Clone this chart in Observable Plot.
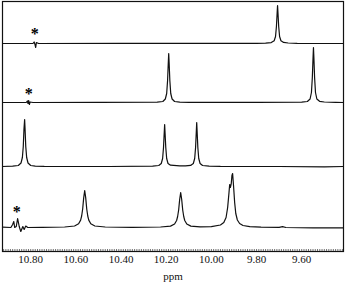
<!DOCTYPE html>
<html>
<head>
<meta charset="utf-8">
<script src="https://cdn.jsdelivr.net/npm/d3@7"></script>
<script src="https://cdn.jsdelivr.net/npm/@observablehq/plot@0.6"></script>
<style>
  html, body { margin: 0; padding: 0; background: #fff; }
  #chart svg { display: block; }
</style>
</head>
<body>
<div id="chart"></div>
<script>
// Chemical-shift axis labels (ppm)
const tickLabels = [10.80, 10.60, 10.40, 10.20, 10.00, 9.80, 9.60];

// Vertical offsets of the four stacked spectra (top to bottom)
const offsets = [208, 149, 85, 24];

// Spectrum 1 (top): [ppm, intensity]
const trace1 = [
  [10.925, 0], [10.79, 0], [10.785, 1.5], [10.781, -1], [10.778, -4], [10.775, 1], [10.770, 0.5], [10.765, 0],
  [10.40, 0.2], [10.00, 0.1], [9.80, 0.2],
  [9.760, 0.4], [9.735, 0.9], [9.722, 2.8], [9.716, 7], [9.712, 17], [9.709, 30], [9.707, 38],
  [9.705, 30], [9.702, 17], [9.698, 7], [9.692, 2.8], [9.680, 1.1], [9.660, 0.5], [9.62, 0.2], [9.415, 0]
];

// Spectrum 2
const trace2 = [
  [10.925, 0], [10.82, 0], [10.815, 1.5], [10.812, -1], [10.809, 2], [10.806, -2], [10.803, 0.5], [10.79, 0],
  [10.50, 0.2],
  [10.24, 0.4], [10.215, 1], [10.204, 3.5], [10.198, 9], [10.194, 22], [10.191, 39], [10.189, 49],
  [10.187, 39], [10.184, 22], [10.180, 9], [10.174, 3.5], [10.163, 1], [10.14, 0.4], [10.10, 0.2],
  [9.80, 0.1],
  [9.60, 0.4], [9.575, 1], [9.563, 3.5], [9.557, 10], [9.553, 25], [9.550, 44], [9.548, 55],
  [9.546, 44], [9.543, 25], [9.539, 10], [9.533, 3.5], [9.521, 1.2], [9.50, 0.5], [9.45, 0.2], [9.415, 0]
];

// Spectrum 3
const trace3 = [
  [10.925, 0], [10.88, 0.4], [10.855, 1], [10.843, 3.5], [10.837, 9], [10.833, 20], [10.830, 37], [10.827, 47],
  [10.825, 37], [10.822, 20], [10.818, 9], [10.812, 3.5], [10.800, 1], [10.78, 0.4], [10.74, 0.1],
  [10.45, 0],
  [10.26, 0.4], [10.233, 1], [10.222, 3], [10.216, 8], [10.212, 19], [10.209, 33], [10.207, 42],
  [10.205, 33], [10.202, 19], [10.198, 8], [10.192, 3], [10.181, 1.3], [10.14, 0.6], [10.115, 0.7],
  [10.092, 1.1], [10.080, 3], [10.074, 8], [10.070, 19], [10.067, 34], [10.065, 44],
  [10.063, 34], [10.060, 19], [10.056, 8], [10.050, 3], [10.039, 1], [10.01, 0.4], [9.96, 0.1],
  [9.70, 0], [9.50, -0.3], [9.415, 0]
];

// Spectrum 4 (bottom)
const trace4 = [
  [10.925, 0.3], [10.888, 0], [10.880, 3], [10.875, 6], [10.871, 0], [10.864, 1], [10.858, 9], [10.851, 1],
  [10.844, -4], [10.835, 1], [10.829, -2], [10.822, 1.5], [10.813, 0], [10.75, 0.2],
  [10.65, 0.5], [10.606, 1.5], [10.588, 3.7], [10.579, 7.4], [10.5745, 11.5], [10.570, 18.5], [10.5655, 29.6], [10.561, 37],
  [10.5565, 29.6], [10.552, 18.5], [10.5475, 11.5], [10.543, 7.4], [10.534, 3.7], [10.516, 1.5], [10.47, 0.5], [10.35, 0.2],
  [10.225, 0.5], [10.181, 1.4], [10.163, 3.5], [10.154, 7], [10.1495, 11], [10.145, 17.5], [10.1405, 28], [10.136, 35],
  [10.1315, 28], [10.127, 17.5], [10.1225, 11], [10.118, 7], [10.109, 3.5], [10.091, 1.4], [10.05, 0.6],
  [10.00, 0.8], [9.96, 2.5], [9.945, 5], [9.935, 10], [9.928, 20], [9.922, 35], [9.919, 43], [9.916, 40],
  [9.912, 44], [9.909, 52], [9.906, 54], [9.902, 42], [9.897, 25], [9.892, 14], [9.885, 7.5], [9.875, 4],
  [9.86, 2], [9.83, 0.8], [9.78, 0.3], [9.70, 0.2], [9.685, 0.8], [9.67, 0], [9.55, -0.4], [9.415, -0.3]
];

// Asterisk annotations
const starPpm = [10.782, 10.809, 10.862];
const starTrace = [0, 1, 3];
const starLift = [14, 13, 20];

const traces = [trace1, trace2, trace3, trace4];
const rows = traces.flatMap((t, i) => t.map(([ppm, v]) => ({ppm, y: v + offsets[i], trace: i})));
const stars = starPpm.map((p, k) => ({ppm: p, y: offsets[starTrace[k]] + starLift[k]}));
const minorTicks = d3.range(9.42, 10.925, 0.01).map(d => +d.toFixed(2));
const serif = "'Liberation Serif', 'DejaVu Serif', serif";

const chart = Plot.plot({
  width: 346,
  height: 287,
  marginLeft: 2,
  marginRight: 3,
  marginTop: 1,
  marginBottom: 36,
  style: {fontFamily: serif, fontSize: "11px", color: "#111", background: "#fff"},
  x: {domain: [10.925, 9.415]},
  y: {domain: [0, 250], axis: null},
  marks: [
    Plot.frame({stroke: "#111", strokeWidth: 1.2}),
    Plot.ruleX(minorTicks, {x: d => d, y1: 0, y2: 2, stroke: "#333", strokeWidth: 0.7}),
    Plot.axisX(tickLabels, {
      tickSize: 0,
      tickPadding: 4,
      tickFormat: d => d.toFixed(2),
      label: "ppm",
      labelAnchor: "center",
      labelArrow: "none",
      labelOffset: 28,
      fontSize: 11,
      fontFamily: serif
    }),
    Plot.line(rows, {x: "ppm", y: "y", z: "trace", stroke: "#111", strokeWidth: 1.2, curve: "linear"}),
    Plot.text(stars, {x: "ppm", y: "y", text: () => "*", fontSize: 16, fontWeight: "bold", fill: "#000", fontFamily: serif, dy: 4})
  ]
});
document.getElementById("chart").appendChild(chart);
</script>
</body>
</html>
